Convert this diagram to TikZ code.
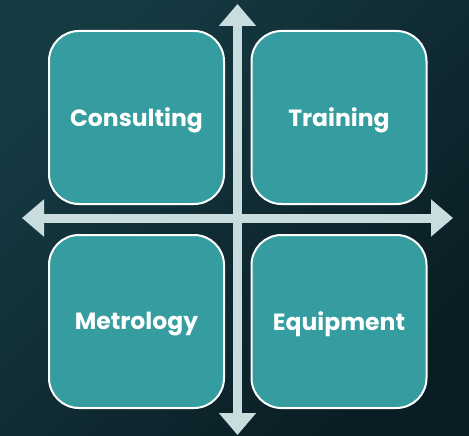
\documentclass[tikz,border=0pt]{standalone}
\usepackage{fontspec}
\setmainfont{Poppins}
\usetikzlibrary{arrows.meta}

\definecolor{bgdunkel}{HTML}{0A1D24}
\definecolor{bghell}{HTML}{163A42}
\definecolor{feldfarbe}{HTML}{359C9F}
\definecolor{achsfarbe}{HTML}{C9DCDE}

% Text etwas tiefer setzen, Boxmaße bleiben
\newcommand{\feldtext}[1]{\raisebox{-3pt}[\height][\depth]{#1}}

\begin{document}
\begin{tikzpicture}[x=1pt, y=-1pt, % Pixelraster, y nach unten
  feld/.style={draw=white, line width=2pt, fill=feldfarbe, rounded corners=30pt,
    minimum width=175pt, minimum height=173pt, inner sep=0pt,
    text=white, font=\fontsize{23.5}{26}\selectfont\bfseries},
  achse/.style={draw=achsfarbe, line width=9pt,
    {Triangle[width=36pt,length=22pt]}-{Triangle[width=36pt,length=22pt]}}]

  % Hintergrund mit Verlauf
  \shade[left color=bghell, right color=bgdunkel, shading angle=45]
    (0,0) rectangle (469,436);
  \useasboundingbox (0,0) rectangle (469,436);

  % Vier Felder
  \node[feld] (consulting) at (136.5,117.5) {\feldtext{Consulting}};
  \node[feld] (training)   at (339,117.5)   {\feldtext{Training}};
  \node[feld] (metrology)  at (136.5,321.5) {\feldtext{Metrology}};
  \node[feld] (equipment)  at (339,321.5)   {\feldtext{Equipment}};

  % Achsenkreuz
  \coordinate (oben)   at (237.5,4);
  \coordinate (unten)  at (237.5,435);
  \coordinate (links)  at (22,218);
  \coordinate (rechts) at (453,218);
  \draw[achse] (unten) -- (oben);
  \draw[achse] (links) -- (rechts);
\end{tikzpicture}
\end{document}
